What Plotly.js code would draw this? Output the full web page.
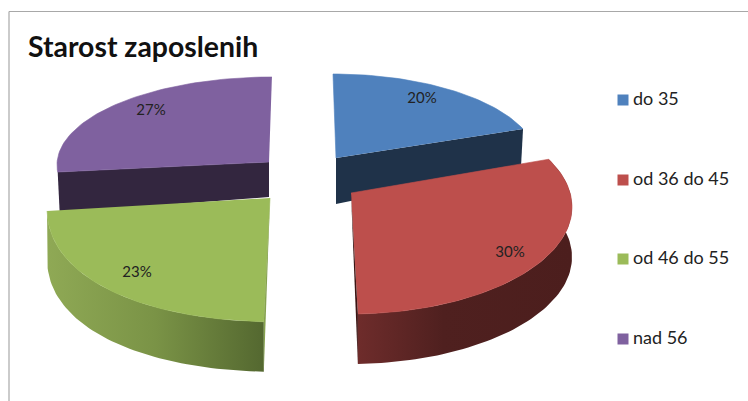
<!DOCTYPE html>
<html>
<head>
<meta charset="utf-8">
<script src="https://cdn.plot.ly/plotly-3.0.1.min.js"></script>
<style>html,body{margin:0;padding:0;background:#fff}#chart{width:748px;height:401px}</style>
</head>
<body>
<div id="chart"></div>
<script>
const titleText = "Starost zaposlenih";
const categories = ["do 35", "od 36 do 45", "od 46 do 55", "nad 56"];
const shareValues = [20, 30, 23, 27];
const topColors = ["#4f81bd", "#bd4f4c", "#9bbb59", "#7f619f"];

// Projection of each exploded slice onto the page (view geometry, not data)
const views = [
  {apex:[336,158], c:[333,162], rx:205, ry:88,  n:2,   s:0.944, o:0,     face:[46,37], faceColor:"#1f3249", label:[422,99]},
  {apex:[351,193], c:[350,207], rx:222, ry:107, n:2,   s:1.06,  o:-12.83, depth:50, grad:[[0,"#6e2c2b"],[0.4,"#4f201f"],[1,"#4c1e1d"]], sliver:[-2,"#3c1413"], label:[510,253]},
  {apex:[270,198], c:[285,207], rx:238, ry:115, n:2.2, s:1.0217, o:0.1, depth:50, grad:[[0,"#8fa955"],[0.5,"#7a9346"],[1,"#546830"]], sliver:[2,"#86a24e"], label:[137,273]},
  {apex:[269,162], c:[272,165], rx:215, ry:88,  n:2,   s:0.973, o:9.7,   face:[35,41], faceColor:"#33263f", label:[151,111]}
];
const legendX = 623, legendTextX = 633, legendY = [100, 180, 259, 339];
const drawOrder = [3, 0, 2, 1];

const total = shareValues.reduce((a, b) => a + b, 0);
const spans = [];
shareValues.reduce((acc, v, i) => { spans[i] = [acc / total * 360, (acc + v) / total * 360]; return acc + v; }, 0);

function rimPoint(g, deg) {
  const r = deg * Math.PI / 180, e = 2 / g.n, sn = Math.sin(r), cs = Math.cos(r);
  return [g.c[0] + g.rx * Math.sign(sn) * Math.pow(Math.abs(sn), e),
          g.c[1] - g.ry * Math.sign(cs) * Math.pow(Math.abs(cs), e)];
}
function rim(i) {
  const g = views[i], t0 = spans[i][0] * g.s + g.o, t1 = spans[i][1] * g.s + g.o, pts = [];
  const steps = Math.max(2, Math.round((t1 - t0) / 1.5));
  for (let k = 0; k <= steps; k++) pts.push(rimPoint(g, t0 + (t1 - t0) * k / steps));
  return pts;
}
function poly(pts, extra) {
  return Object.assign({
    type: "scatter", mode: "lines", fill: "toself", hoverinfo: "skip", showlegend: false,
    x: pts.map(p => p[0]), y: pts.map(p => p[1]), line: {width: 0}
  }, extra);
}

const traces = [];
drawOrder.forEach(i => {
  const g = views[i], pts = rim(i);
  if (g.face) {
    const end = i === 0 ? pts[pts.length - 1] : pts[0];
    traces.push(poly([g.apex, end, [end[0] - 2 * Math.sign(end[0] - g.apex[0]), end[1] + g.face[1]], [g.apex[0], g.apex[1] + g.face[0]]],
      {fillcolor: g.faceColor}));
  } else {
    const low = pts.map(p => [p[0], p[1] + g.depth]).reverse();
    traces.push(poly(pts.concat(low), {fillgradient: {type: "horizontal", colorscale: g.grad}, fillcolor: g.grad[0][1]}));
  }
  traces.push(poly([g.apex].concat(pts), {name: categories[i], fillcolor: topColors[i], line: {width: 0.6, color: topColors[i]}}));
  if (g.sliver) {
    const edge = i === 1 ? pts[pts.length - 1] : pts[0];
    traces.push(poly([g.apex, [edge[0] + g.sliver[0], edge[1]], [edge[0], edge[1] + g.depth], edge],
      {fillcolor: g.sliver[1]}));
  }
});

traces.push({
  type: "scatter", mode: "text", hoverinfo: "skip", showlegend: false,
  x: views.map(g => g.label[0]), y: views.map(g => g.label[1]),
  text: shareValues.map(v => v + "%"),
  textposition: "middle center",
  textfont: {family: "Lato, sans-serif", size: 15, color: "#222222"}
});
traces.push({
  type: "scatter", mode: "markers", hoverinfo: "skip", showlegend: false,
  x: categories.map(() => legendX), y: legendY,
  marker: {symbol: "square", size: 11, color: topColors, line: {width: 0}}
});
traces.push({
  type: "scatter", mode: "text", hoverinfo: "skip", showlegend: false,
  x: categories.map(() => legendTextX), y: legendY, text: categories,
  textposition: "middle right",
  textfont: {family: "Lato, sans-serif", size: 18, color: "#222222"}
});

const layout = {
  width: 748, height: 401, margin: {l: 0, r: 0, t: 0, b: 0},
  paper_bgcolor: "#ffffff", plot_bgcolor: "#ffffff", showlegend: false,
  xaxis: {range: [0, 748], visible: false, fixedrange: true},
  yaxis: {range: [401, 0], visible: false, fixedrange: true},
  title: {text: "<b>" + titleText + "</b>", x: 28 / 748, xanchor: "left", y: 1 - 47 / 401, yanchor: "middle",
          font: {family: "Lato, sans-serif", size: 28.4, color: "#111111"}},
  shapes: [
    {type: "line", xref: "paper", yref: "paper", x0: 9 / 748, x1: 1, y0: 1 - 11.5 / 401, y1: 1 - 11.5 / 401, line: {color: "#a8a8a8", width: 1.2}},
    {type: "line", xref: "paper", yref: "paper", x0: 9 / 748, x1: 9 / 748, y0: 0, y1: 1 - 11.5 / 401, line: {color: "#a8a8a8", width: 1.2}}
  ]
};
Plotly.newPlot("chart", traces, layout, {displayModeBar: false, staticPlot: true});
</script>
</body>
</html>
